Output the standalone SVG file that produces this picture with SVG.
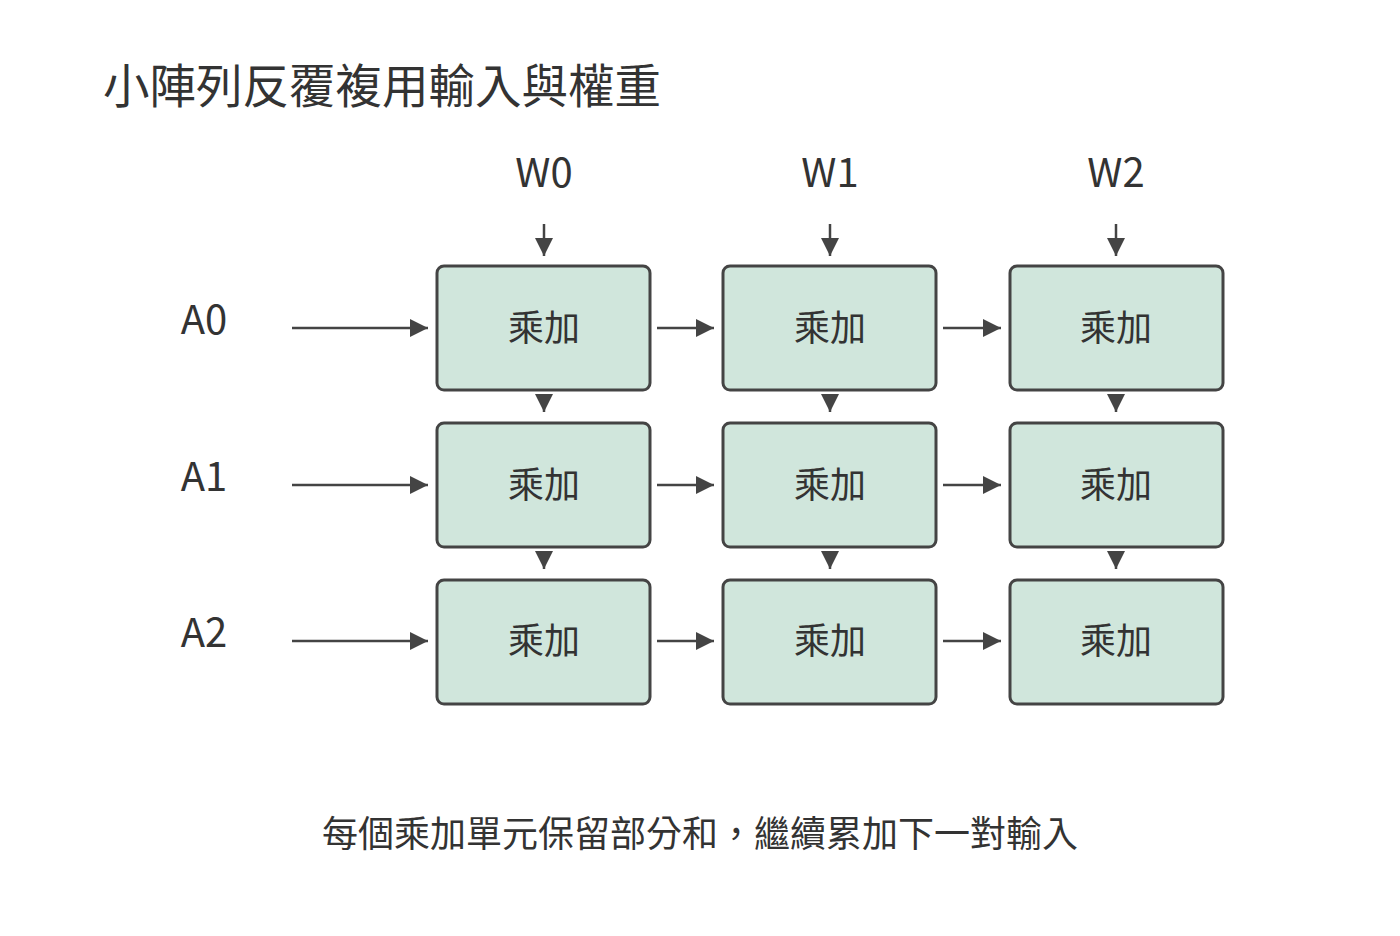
<svg xmlns="http://www.w3.org/2000/svg" width="1400" height="936" viewBox="0 0 1400 936">
<style>
text{font-family:"Noto Sans CJK TC","Noto Sans",sans-serif;fill:#333}
.b{fill:#d0e6dc;stroke:#444;stroke-width:3}
.l{stroke:#444;stroke-width:2.5;fill:none;marker-end:url(#a)}
.t{font-size:36px;text-anchor:middle}
.h{font-size:40px;text-anchor:middle}
</style>
<defs><marker id="a" markerUnits="userSpaceOnUse" markerWidth="18" markerHeight="18" refX="18" refY="9" orient="auto"><path d="M0,0L18,9L0,18Z" fill="#444"/></marker></defs>
<rect width="1400" height="936" fill="#fff"/>
<text x="103" y="103" font-size="46.5">小陣列反覆複用輸入與權重</text>
<text class="h" x="544" y="187">W0</text><text class="h" x="830" y="187">W1</text><text class="h" x="1116" y="187">W2</text>
<text class="h" x="204" y="334">A0</text><text class="h" x="204" y="491">A1</text><text class="h" x="204" y="647">A2</text>
<g id="connectors">
<line class="l" x1="544" y1="224" x2="544" y2="256"/><line class="l" x1="830" y1="224" x2="830" y2="256"/><line class="l" x1="1116" y1="224" x2="1116" y2="256"/>
<line class="l" x1="292" y1="328" x2="428" y2="328"/><line class="l" x1="292" y1="485" x2="428" y2="485"/><line class="l" x1="292" y1="641" x2="428" y2="641"/>
<line class="l" x1="657" y1="328" x2="714" y2="328"/><line class="l" x1="943" y1="328" x2="1001" y2="328"/>
<line class="l" x1="657" y1="485" x2="714" y2="485"/><line class="l" x1="943" y1="485" x2="1001" y2="485"/>
<line class="l" x1="657" y1="641" x2="714" y2="641"/><line class="l" x1="943" y1="641" x2="1001" y2="641"/>
<line class="l" x1="544" y1="394" x2="544" y2="412"/><line class="l" x1="830" y1="394" x2="830" y2="412"/><line class="l" x1="1116" y1="394" x2="1116" y2="412"/>
<line class="l" x1="544" y1="551" x2="544" y2="569"/><line class="l" x1="830" y1="551" x2="830" y2="569"/><line class="l" x1="1116" y1="551" x2="1116" y2="569"/>
</g>
<g id="n00"><rect class="b" x="437" y="266" width="213" height="124" rx="7"/><text class="t" x="544" y="341">乘加</text></g>
<g id="n01"><rect class="b" x="723" y="266" width="213" height="124" rx="7"/><text class="t" x="830" y="341">乘加</text></g>
<g id="n02"><rect class="b" x="1010" y="266" width="213" height="124" rx="7"/><text class="t" x="1116" y="341">乘加</text></g>
<g id="n10"><rect class="b" x="437" y="423" width="213" height="124" rx="7"/><text class="t" x="544" y="498">乘加</text></g>
<g id="n11"><rect class="b" x="723" y="423" width="213" height="124" rx="7"/><text class="t" x="830" y="498">乘加</text></g>
<g id="n12"><rect class="b" x="1010" y="423" width="213" height="124" rx="7"/><text class="t" x="1116" y="498">乘加</text></g>
<g id="n20"><rect class="b" x="437" y="580" width="213" height="124" rx="7"/><text class="t" x="544" y="654">乘加</text></g>
<g id="n21"><rect class="b" x="723" y="580" width="213" height="124" rx="7"/><text class="t" x="830" y="654">乘加</text></g>
<g id="n22"><rect class="b" x="1010" y="580" width="213" height="124" rx="7"/><text class="t" x="1116" y="654">乘加</text></g>
<text class="t" x="700" y="847">每個乘加單元保留部分和，繼續累加下一對輸入</text>
</svg>
